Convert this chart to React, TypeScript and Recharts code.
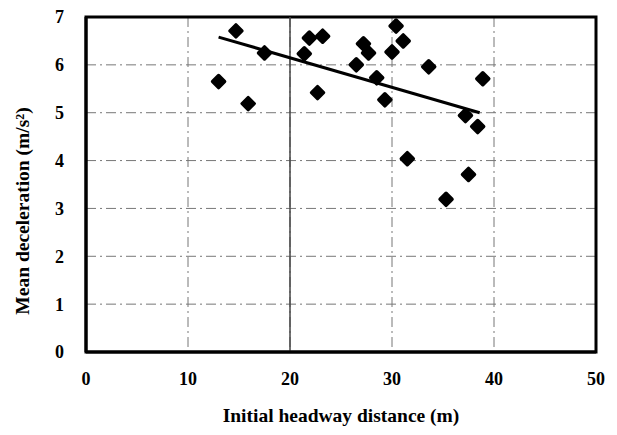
import React from "react";
import {
  ScatterChart,
  Scatter,
  XAxis,
  YAxis,
  CartesianGrid,
  ReferenceArea,
  ReferenceLine,
} from "recharts";

// headway distance (m) vs mean deceleration (m/s^2)
const headway = [
  13.0, 14.7, 15.9, 17.5, 21.4, 21.9, 23.2, 22.7, 26.5, 27.2, 27.7, 28.5,
  29.3, 30.0, 30.4, 31.1, 31.5, 33.6, 35.3, 37.2, 37.5, 38.4, 38.9,
];
const decel = [
  5.65, 6.71, 5.19, 6.25, 6.23, 6.56, 6.6, 5.42, 6.0, 6.44, 6.25, 5.73,
  5.27, 6.27, 6.81, 6.5, 4.04, 5.96, 3.19, 4.94, 3.71, 4.71, 5.71,
];
const trendX = [13.0, 38.6];
const trendY = [6.58, 5.0];

const xTicks = [0, 10, 20, 30, 40, 50];
const yTicks = [0, 1, 2, 3, 4, 5, 6, 7];

const points = headway.map((x, i) => ({ x, y: decel[i] }));
const trend = trendX.map((x, i) => ({ x, y: trendY[i] }));

const font = "'Liberation Serif', 'Times New Roman', serif";
const tickStyle = { fill: "#000", fontSize: 18, fontWeight: 700, fontFamily: font };

const Diamond = (props: any) => {
  const { cx, cy } = props;
  if (cx == null || cy == null) return null;
  const r = 6;
  return (
    <polygon
      points={`${cx},${cy - r} ${cx + r},${cy} ${cx},${cy + r} ${cx - r},${cy}`}
      fill="#000"
      stroke="#000"
      strokeWidth={3.5}
      strokeLinejoin="round"
    />
  );
};

const YLabel = () => {
  const x = 22;
  const cy = 211;
  return (
    <text
      x={0}
      y={0}
      transform={`translate(${x}, ${cy}) rotate(-90)`}
      textAnchor="middle"
      dominantBaseline="central"
      fontFamily={font}
      fontWeight={700}
      fontSize={19.5}
      fill="#000"
    >
      {"Mean deceleration (m/s²)"}
    </text>
  );
};

export default function App() {
  return (
    <div style={{ position: "fixed", left: 0, top: 0, background: "#fff" }}>
      <ScatterChart
        width={617}
        height={435}
        margin={{ top: 17, right: 21, left: 0, bottom: 0 }}
      >
        <CartesianGrid stroke="#777" strokeDasharray="10 4 2 4" />
        <XAxis
          type="number"
          dataKey="x"
          domain={[0, 50]}
          ticks={xTicks}
          height={83}
          axisLine={{ stroke: "#000", strokeWidth: 3 }}
          tickLine={false}
          tickMargin={14}
          tick={tickStyle}
          label={{
            value: "Initial headway distance (m)",
            position: "insideBottom",
            offset: 13,
            style: { fill: "#000", fontSize: 19.5, fontWeight: 700, fontFamily: font },
          }}
        />
        <YAxis
          type="number"
          dataKey="y"
          domain={[0, 7]}
          ticks={yTicks}
          width={86}
          axisLine={{ stroke: "#000", strokeWidth: 3 }}
          tickLine={false}
          tickMargin={16}
          tick={tickStyle}
          label={<YLabel />}
        />
        <ReferenceLine x={20} stroke="#444" strokeWidth={1.5} />
        <ReferenceArea
          x1={0}
          x2={50}
          y1={0}
          y2={7}
          fill="none"
          stroke="#000"
          strokeWidth={3}
          ifOverflow="visible"
        />
        <Scatter data={points} shape={<Diamond />} isAnimationActive={false} />
        <Scatter
          data={trend}
          line={{ stroke: "#000", strokeWidth: 3 }}
          shape={() => null}
          isAnimationActive={false}
        />
      </ScatterChart>
    </div>
  );
}
